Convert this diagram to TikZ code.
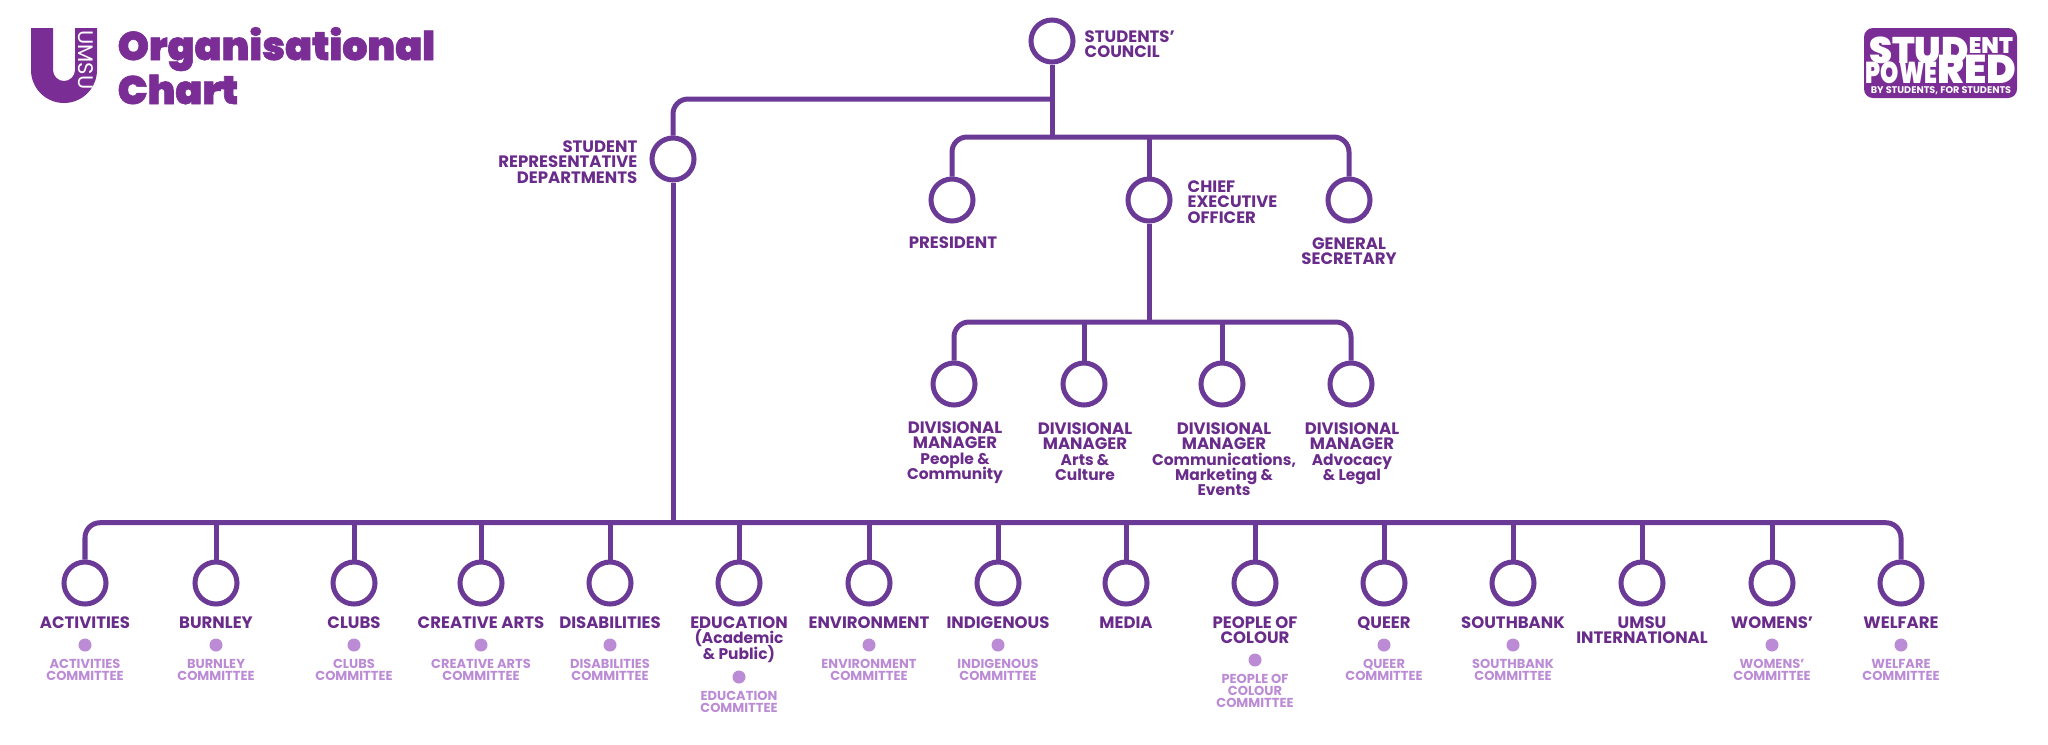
\documentclass[tikz,border=0pt]{standalone}
\usepackage{xcolor}
\usepackage{fontspec}
\usetikzlibrary{positioning}
\setmainfont{Poppins}
\newfontfamily\titlefont{Poppins Black}[FakeBold=1.5]
\newfontfamily\badgefont{Poppins Black}
\lineskiplimit=-10pt
\newcommand{\lc}[1]{{\fontsize{4.4}{4.35}\selectfont #1}}
\definecolor{umsuline}{HTML}{6B3A96}
\definecolor{umsutext}{HTML}{6A2C8A}
\definecolor{umsulogo}{HTML}{7B2D96}
\definecolor{umsulight}{HTML}{BC8BD6}
\tikzset{
  orgnode/.style={circle, draw=umsuline, line width=0.05cm, minimum size=0.42cm, inner sep=0pt},
  orglink/.style={draw=umsuline, line width=0.05cm, rounded corners=0.15cm},
  orglabel/.style={text=umsutext, font=\fontsize{4.7}{4.35}\selectfont\bfseries, align=center, inner sep=0pt, anchor=north},
  subdot/.style={circle, fill=umsulight, minimum size=0.13cm, inner sep=0pt},
  sublabel/.style={text=umsulight, font=\fontsize{3.7}{3.4}\selectfont\bfseries, align=center, inner sep=0pt}
}
\begin{document}
\begin{tikzpicture}[x=0.01cm,y=-0.01cm]
  \useasboundingbox (0,0) rectangle (2048,744);

  % logo and heading
  \fill[umsulogo] (31,28) -- (53,28) -- (53,70) arc (180:0:11) -- (75,28) -- (97,28) -- (97,70) arc (0:180:33) -- cycle;
  \node[text=white, rotate=-90, inner sep=0pt, font=\fontsize{6}{6}\selectfont] (umsutag) at (86,60) {UMSU};
  \node[text=umsulogo, anchor=base west, inner sep=0pt, font=\titlefont\fontsize{11.3}{12}\selectfont] (headA) at (117,60) {Organisational};
  \node[text=umsulogo, anchor=base west, inner sep=0pt, font=\titlefont\fontsize{11.3}{12}\selectfont] (headB) at (117,104) {Chart};

  % badge
  \fill[umsulogo, rounded corners=0.09cm] (1864,28) rectangle (2017,98);
  \node[text=white, anchor=base, align=center, inner sep=0pt, font=\badgefont\fontsize{10.5}{5.6}\selectfont] (badgeA) at (1941,83)
    {STUD\raisebox{2.8pt}{\fontsize{6.4}{6.4}\selectfont ENT}\\\scalebox{1}[1.3]{\fontsize{6.6}{7}\selectfont POWE}{\fontsize{11.4}{5.6}\selectfont RED}};
  \node[text=white, anchor=base, inner sep=0pt, font=\fontsize{2.75}{3}\selectfont\bfseries] (badgeC) at (1941,93) {BY STUDENTS, FOR STUDENTS};

  % top of the chart
  \node[orgnode] (council) at (1052,41) {};
  \node[orgnode] (srd) at (673,159) {};
  \node[orgnode] (president) at (952,200) {};
  \node[orgnode] (ceo) at (1149,200) {};
  \node[orgnode] (gensec) at (1349,200) {};
  \node[orgnode] (divA) at (954,384) {};
  \node[orgnode] (divB) at (1084,384) {};
  \node[orgnode] (divC) at (1222,384) {};
  \node[orgnode] (divD) at (1351,384) {};

  \node[orglabel, anchor=north west, align=left] (councilT) at (1084,30) {STUDENTS'\\COUNCIL};
  \node[orglabel, anchor=north east, align=right] (srdT) at (638,140) {STUDENT\\REPRESENTATIVE\\DEPARTMENTS};
  \node[orglabel] (presidentT) at (953,236) {PRESIDENT};
  \node[orglabel, anchor=north west, align=left] (ceoT) at (1187,180) {CHIEF\\EXECUTIVE\\OFFICER};
  \node[orglabel] (gensecT) at (1349,237) {GENERAL\\SECRETARY};
  \node[orglabel] (divAT) at (955,421) {DIVISIONAL\\MANAGER\\\lc{People \&}\\\lc{Community}};
  \node[orglabel] (divBT) at (1085,422) {DIVISIONAL\\MANAGER\\\lc{Arts \&}\\\lc{Culture}};
  \node[orglabel] (divCT) at (1224,422) {DIVISIONAL\\MANAGER\\\lc{Communications,}\\\lc{Marketing \&}\\\lc{Events}};
  \node[orglabel] (divDT) at (1352,422) {DIVISIONAL\\MANAGER\\\lc{Advocacy}\\\lc{\& Legal}};

  \coordinate (branchA) at (1052,99);
  \coordinate (branchB) at (1052,137);
  \coordinate (branchC) at (1149,322);
  \coordinate (busA) at (673,522.7);
  \draw[orglink] (council) -- (branchB);
  \draw[orglink] (branchA) -| (srd);
  \draw[orglink] (president) |- (branchB);
  \draw[orglink] (gensec) |- (branchB);
  \draw[orglink] (ceo |- branchB) -- (ceo);
  \draw[orglink] (ceo) -- (branchC);
  \draw[orglink] (divA) |- (branchC);
  \draw[orglink] (divD) |- (branchC);
  \draw[orglink] (divB) -- (divB |- branchC);
  \draw[orglink] (divC) -- (divC |- branchC);
  \draw[orglink] (srd) -- (busA);

  % departments
  \foreach \x/\n/\t in {
      85/activities/ACTIVITIES, 216/burnley/BURNLEY, 354/clubs/CLUBS, 481/creative/CREATIVE ARTS,
      610/disabilities/DISABILITIES, 739/education/{EDUCATION\\\lc{(Academic}\\\lc{\& Public)}},
      869/environment/ENVIRONMENT, 998/indigenous/INDIGENOUS, 1126/media/MEDIA,
      1255/colour/{PEOPLE OF\\COLOUR}, 1384/queer/QUEER, 1513/southbank/SOUTHBANK,
      1642/international/{UMSU\\INTERNATIONAL}, 1772/womens/WOMENS', 1901/welfare/WELFARE} {
    \node[orgnode] (\n) at (\x,583) {};
    \node[orglabel] (\n T) at (\x,616) {\t};
  }
  \draw[orglink] (activities) |- (busA);
  \draw[orglink] (welfare) |- (busA);
  \foreach \n in {burnley,clubs,creative,disabilities,education,environment,indigenous,media,colour,queer,southbank,international,womens}
    \draw[orglink] (\n) -- (\n |- busA);

  % committees
  \foreach \x/\n/\d/\t in {
      85/activities/645/ACTIVITIES, 216/burnley/645/BURNLEY, 354/clubs/645/CLUBS,
      481/creative/645/CREATIVE ARTS, 610/disabilities/645/DISABILITIES, 739/education/677/EDUCATION,
      869/environment/645/ENVIRONMENT, 998/indigenous/645/INDIGENOUS, 1255/colour/660/{PEOPLE OF\\COLOUR},
      1384/queer/645/QUEER, 1513/southbank/645/SOUTHBANK, 1772/womens/645/WOMENS', 1901/welfare/645/WELFARE} {
    \node[subdot] (\n D) at (\x,\d) {};
    \node[sublabel, below=0.06cm of \n D.south] (\n C) {\t\\COMMITTEE};
  }
\end{tikzpicture}
\end{document}
